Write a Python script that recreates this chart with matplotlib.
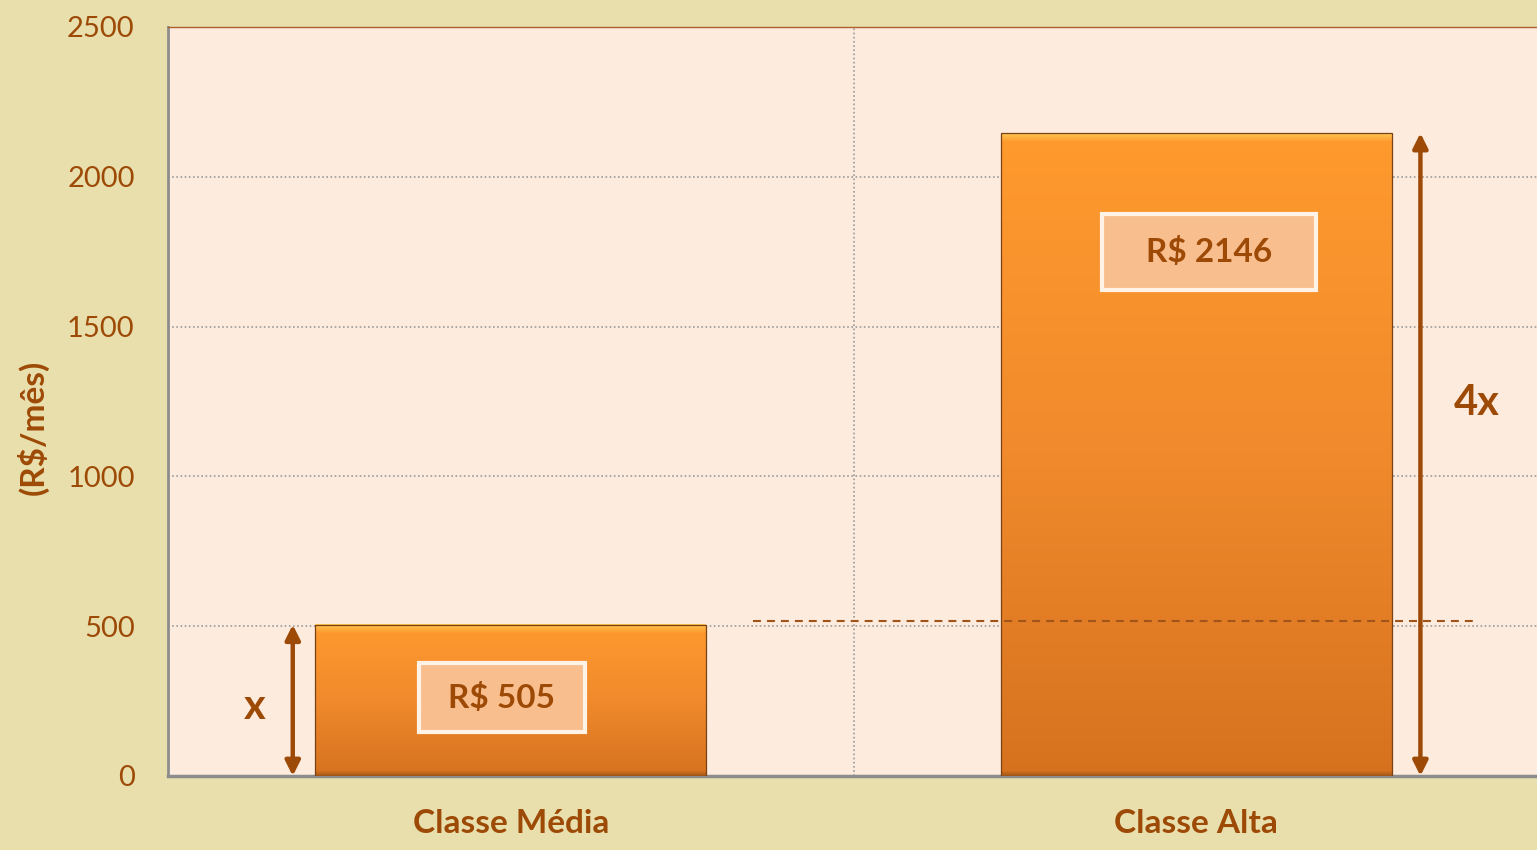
import numpy as np
import matplotlib
matplotlib.use('Agg')
import matplotlib.pyplot as plt
from matplotlib.patches import Rectangle
from matplotlib.colors import to_rgb

# ---- data ----
categories = ['Classe Média', 'Classe Alta']
values = [505, 2146]
value_labels = ['R$ 505', 'R$ 2146']
ratio_labels = ['x', '4x']
yticks = [0, 500, 1000, 1500, 2000, 2500]
ylabel = '(R$/mês)'
guide_level = 518

plt.rcParams['font.family'] = ['Lato', 'DejaVu Sans']

BROWN = '#9E4A07'
W, H = 1537, 850
fig = plt.figure(figsize=(W / 100, H / 100), dpi=100)
fig.patch.set_facecolor('#E8DFAD')
ax = fig.add_axes([168 / W, 74 / H, 1371 / W, 749 / H])
ax.set_facecolor('#FDEBDD')

x = np.arange(len(categories))
bar_w = 0.57
bars = ax.bar(x, values, width=bar_w, color='none', edgecolor='none', zorder=3)

top_c = np.array(to_rgb('#FF9A2E'))
mid_c = np.array(to_rgb('#F08A2C'))
bot_c = np.array(to_rgb('#D6721F'))
bevel_c = np.array(to_rgb('#FFD45C'))
for b in bars:
    x0, w, h = b.get_x(), b.get_width(), b.get_height()
    n = 400
    v = (np.arange(n) + 0.5) / n * h
    f = v / h
    lo = np.clip(f / 0.5, 0, 1)[:, None]
    hi = np.clip((f - 0.5) / 0.5, 0, 1)[:, None]
    cols = np.where(f[:, None] < 0.5,
                    bot_c[None, :] + (mid_c - bot_c)[None, :] * lo,
                    mid_c[None, :] + (top_c - mid_c)[None, :] * hi)
    d_top = h - v
    t = np.clip(1 - d_top / 30.0, 0, 1)[:, None]
    cols = cols * (1 - 0.8 * t) + bevel_c[None, :] * 0.8 * t
    tb = np.clip(1 - v / 18.0, 0, 1)[:, None]
    cols = cols * (1 - 0.25 * tb)
    img = np.repeat(cols[:, None, :], 2, axis=1)
    ax.imshow(img, extent=[x0, x0 + w, 0, h], origin='lower', aspect='auto',
              zorder=3, interpolation='bilinear')
ax.bar(x, values, width=bar_w, fill=False, edgecolor='#7A4214', lw=0.9, zorder=4)

ax.set_xlim(-0.5, 1.5)
ax.set_ylim(0, 2500)

ax.set_yticks(yticks)
ax.yaxis.grid(True, ls=(0, (1, 1.5)), color='#9A9A9A', lw=1.2)
ax.set_xticks([0.5], minor=True)
ax.xaxis.grid(True, which='minor', ls=(0, (1, 1.5)), color='#9A9A9A', lw=1.2)
ax.set_axisbelow(True)

ax.set_xticks(x)
ax.set_xticklabels(categories, fontsize=24, fontweight='bold', color=BROWN)
ax.tick_params(axis='x', which='both', length=0, pad=24)
ax.tick_params(axis='y', length=0, pad=24, labelsize=21, labelcolor=BROWN)

for s in ['left', 'bottom']:
    ax.spines[s].set_color('#8C8C8C')
ax.spines['left'].set_linewidth(2)
ax.spines['bottom'].set_linewidth(2.5)
ax.spines['top'].set_color('#B0602A')
ax.spines['top'].set_linewidth(1)
ax.spines['right'].set_visible(False)

fig.text(33 / W, 1 - 427 / H, ylabel, rotation=90, ha='center', va='center',
         fontsize=24, fontweight='bold', color=BROWN)

ax.plot([0.353, 1.404], [guide_level, guide_level], ls=(0, (3.8, 2.9)),
        color='#A0541A', lw=1.5, zorder=6)

arrow_x = [bars[0].get_x() - 0.033, bars[1].get_x() + bar_w + 0.042]
for xa, v in zip(arrow_x, values):
    ax.annotate('', xy=(xa, v), xytext=(xa, 0),
                arrowprops=dict(arrowstyle='<|-|>', color=BROWN, lw=3.2,
                                mutation_scale=22, shrinkA=0, shrinkB=0),
                zorder=6)

ratio_pos = [(-0.374, 230), (1.409, 1245)]
for (xp, yp), lab in zip(ratio_pos, ratio_labels):
    ax.text(xp, yp, lab, ha='center', va='center', fontsize=30,
            fontweight='bold', color=BROWN, zorder=7)

box_ext = [(-0.134, 0.108, 147, 377), (0.863, 1.174, 1622, 1876)]
for (bx0, bx1, by0, by1), lab in zip(box_ext, value_labels):
    ax.add_patch(Rectangle((bx0, by0), bx1 - bx0, by1 - by0, facecolor='#F9BE8D',
                           edgecolor='#FFF3E8', lw=3, zorder=7))
    ax.text((bx0 + bx1) / 2, (by0 + by1) / 2, lab, ha='center', va='center',
            fontsize=24, fontweight='bold', color=BROWN, zorder=8)

fig.savefig('out.png', dpi=100, facecolor=fig.get_facecolor())
